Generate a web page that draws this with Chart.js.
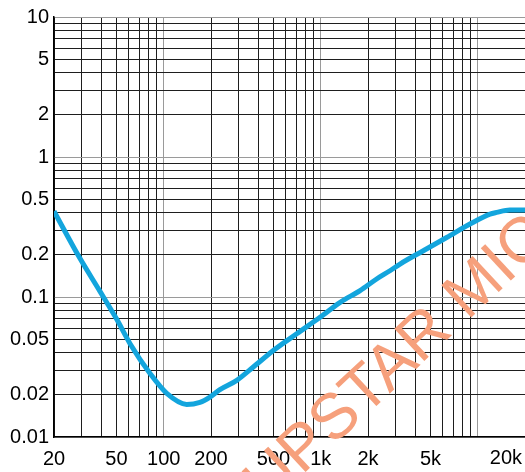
<!DOCTYPE html>
<html>
<head>
<meta charset="utf-8">
<script src="https://cdn.jsdelivr.net/npm/chart.js@4.4.1/dist/chart.umd.min.js"></script>
<style>
  body { margin: 0; background: #fff; }
  #wrap { width: 525px; height: 472px; }
</style>
</head>
<body>
<div id="wrap"><canvas id="myChart"></canvas></div>
<script>
const freq = [20, 29, 39, 50, 61, 82, 105, 140, 170, 197, 228, 292, 372, 499, 703, 990, 1330, 1780, 2270, 2760, 3200, 4500, 6340, 8920, 11960, 13200, 16000, 20000];
const response = [0.41, 0.192, 0.111, 0.0698, 0.0464, 0.0283, 0.0204, 0.0171, 0.0177, 0.0193, 0.0218, 0.0254, 0.0316, 0.0415, 0.0546, 0.0716, 0.0916, 0.111, 0.1345, 0.154, 0.172, 0.214, 0.266, 0.332, 0.391, 0.402, 0.418, 0.418];

const xLabelValues = [20, 50, 100, 200, 500, 1000, 2000, 5000, 20000];
const xLabelTexts = ['20', '50', '100', '200', '500', '1k', '2k', '5k', '20k'];
const yLabelValues = [0.01, 0.02, 0.05, 0.1, 0.2, 0.5, 1, 2, 5, 10];
const yLabelTexts = ['0.01', '0.02', '0.05', '0.1', '0.2', '0.5', '1', '2', '5', '10'];

const xMin = 20, xMax = 20000;
const yMin = 0.01, yMax = 10;
const watermark = 'UPSTAR MIC';
const font = '"Liberation Sans", Arial, sans-serif';

// 1..9 x 10^n grid steps
function logGrid(lo, hi) {
    const out = [];
    for (let e = Math.floor(Math.log10(lo)); e <= Math.ceil(Math.log10(hi)); e++) {
        for (let m = 1; m <= 9; m++) {
            const v = Number((m * Math.pow(10, e)).toPrecision(6));
            if (v >= lo && v <= hi) out.push(v);
        }
    }
    return out;
}

function labelFor(v, values, texts) {
    const i = values.findIndex(x => Math.abs(x - v) / x < 1e-6);
    return i < 0 ? '' : texts[i];
}

function gridColor(c) {
    const v = c.tick ? c.tick.value : 1;
    const l = Math.log10(v);
    return Math.abs(l - Math.round(l)) < 1e-6 ? '#9a9a9a' : '#1e1e1e';
}

const extras = {
    id: 'extras',
    beforeDatasetsDraw(chart) {
        const c = chart.ctx;
        c.save();
        c.translate(256, 494);
        c.rotate(-43 * Math.PI / 180);
        c.font = '64px ' + font;
        c.fillStyle = '#f6a07c';
        c.textAlign = 'left';
        c.textBaseline = 'middle';
        c.fillText(watermark, 0, 0);
        c.restore();
    },
    afterDraw(chart) {
        // last x label sits inside the right edge
        const c = chart.ctx;
        const a = chart.chartArea;
        c.save();
        c.font = '20px ' + font;
        c.fillStyle = '#000';
        c.textAlign = 'right';
        c.textBaseline = 'middle';
        c.fillText(xLabelTexts[xLabelTexts.length - 1], chart.width - 3, a.bottom + 21);
        c.restore();
    }
};

const ctx = document.getElementById('myChart').getContext('2d');

let chart = new Chart(ctx, {
    type: 'line',
    data: {
        datasets: [{
            data: freq.map((f, i) => ({x: f, y: response[i]})),
            borderColor: '#13a5dd',
            borderWidth: 5,
            pointRadius: 0,
            cubicInterpolationMode: 'monotone',
            fill: false
        }]
    },
    options: {
        responsive: true,
        maintainAspectRatio: false,
        animation: false,
        layout: {
            autoPadding: false,
            padding: {top: 16, right: 0, bottom: 0, left: 0}
        },
        plugins: {
            legend: {display: false},
            tooltip: {enabled: false}
        },
        scales: {
            x: {
                type: 'logarithmic',
                min: xMin,
                max: xMax,
                afterBuildTicks: s => { s.ticks = logGrid(xMin, xMax).map(v => ({value: v})); },
                afterFit: s => { s.height = 35; },
                grid: {color: gridColor, drawTicks: true, tickLength: 10, tickColor: 'rgba(0,0,0,0)', lineWidth: 1},
                border: {display: true, color: '#000', width: 1.5},
                ticks: {
                    autoSkip: false,
                    maxRotation: 0,
                    padding: 0,
                    color: '#000',
                    font: {family: font, size: 20},
                    callback: v => v === xMax ? '' : labelFor(v, xLabelValues, xLabelTexts)
                }
            },
            y: {
                type: 'logarithmic',
                min: yMin,
                max: yMax,
                afterBuildTicks: s => { s.ticks = logGrid(yMin, yMax).map(v => ({value: v})); },
                afterFit: s => { s.width = 54; },
                grid: {color: gridColor, drawTicks: false, lineWidth: 1},
                border: {display: true, color: '#000', width: 1.5},
                ticks: {
                    autoSkip: false,
                    padding: 5,
                    color: '#000',
                    font: {family: font, size: 20},
                    callback: v => labelFor(v, yLabelValues, yLabelTexts)
                }
            }
        }
    },
    plugins: [extras]
});
</script>
</body>
</html>
